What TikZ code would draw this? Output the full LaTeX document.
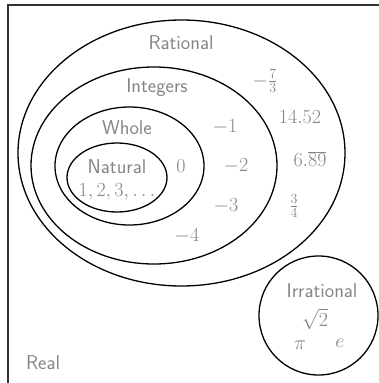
\documentclass[tikz,border=0pt]{standalone}
\usepackage{fix-cm}
\usetikzlibrary{shapes.geometric}
\begin{document}
\begin{tikzpicture}[x=1pt,y=-1pt,
  setline/.style={draw=black, line width=1.3pt, ellipse, inner sep=0pt},
  lbl/.style={text=black!48, inner sep=0pt, font=\fontsize{20}{24}\selectfont\sffamily},
  num/.style={text=black!48, inner sep=0pt, font=\fontsize{20}{24}\selectfont}]
\useasboundingbox (0,0) rectangle (379,383);
\clip (0,0) rectangle (379,383);
\draw[black!80, line width=1.6pt] (8,5) rectangle (400,400);
% sets
\node[setline, minimum width=327pt, minimum height=266pt] (rational) at (181.5,153) {};
\node[setline, minimum width=246pt, minimum height=197pt] (integers) at (154,165.5) {};
\node[setline, minimum width=149pt, minimum height=118pt] (whole) at (129.5,166) {};
\node[setline, minimum width=100pt, minimum height=69pt] (natural) at (117,177.5) {};
\node[setline, circle, minimum size=119pt] (irrational) at (318.5,315.5) {};
% labels
\node[lbl] (lrat) at (181,43) {Rational};
\node[lbl] (lint) at (157,88) {Integers};
\node[lbl] (lwho) at (127,128) {Whole};
\node[lbl] (lnat) at (117,167) {Natural};
\node[num] (n123) at (117,192) {$1,2,3,\ldots$};
\node[num] (n0) at (181,166) {$0$};
\node[num] (nm1) at (225,127) {$-1$};
\node[num] (nm2) at (236,166) {$-2$};
\node[num] (nm3) at (226,206) {$-3$};
\node[num] (nm4) at (187,236) {$-4$};
\node[num] (nm73) at (265,81) {$-\frac{7}{3}$};
\node[num] (n1452) at (300,117) {$14.52$};
\node[num] (n689) at (310,159) {$6.\overline{89}$};
\node[num] (n34) at (294,206) {$\frac{3}{4}$};
\node[lbl] (lirr) at (322,291) {Irrational};
\node[num] (nsq) at (315,319) {$\sqrt{2}$};
\node[num] (npi) at (300,345) {$\pi$};
\node[num] (ne) at (340,343) {$e$};
\node[lbl] (lreal) at (43,363) {Real};
\end{tikzpicture}
\end{document}
